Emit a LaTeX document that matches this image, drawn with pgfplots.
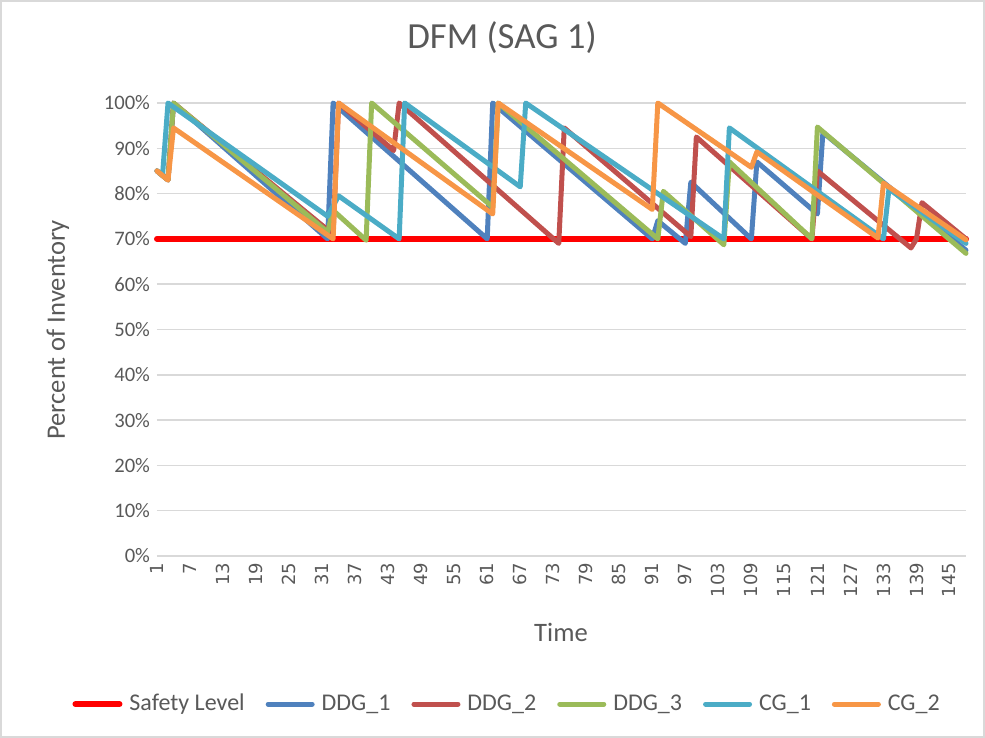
\documentclass[border=0pt]{standalone}
\usepackage{fontspec}
\setmainfont{Carlito}
\newfontfamily\tickfont{DejaVu Sans}
\usepackage{pgfplots}
\pgfplotsset{compat=1.18}
\definecolor{txt}{HTML}{595959}
\definecolor{gridc}{HTML}{D9D9D9}
\definecolor{cA}{HTML}{4F81BD}
\definecolor{cB}{HTML}{C0504D}
\definecolor{cC}{HTML}{9BBB59}
\definecolor{cD}{HTML}{4BACC6}
\definecolor{cE}{HTML}{F79646}
\begin{document}
\begin{tikzpicture}
\useasboundingbox (-78.5pt,-91pt) rectangle (414pt,278pt);
\draw[gridc, line width=0.75pt] (-78.1pt,-90.6pt) rectangle (413.6pt,277.6pt);
\begin{axis}[
  scale only axis, width=404.5pt, height=226.5pt,
  xmin=1, xmax=148, ymin=0, ymax=100,
  clip=false,
  xtick={1,7,...,145}, ytick={0,10,...,100},
  ymajorgrids, major grid style={gridc, line width=0.75pt},
  axis x line*=bottom, axis y line*=left,
  y axis line style={draw=none},
  x axis line style={gridc, line width=0.75pt, -},
  major tick length=0pt, tick style={draw=none},
  /pgf/number format/assume math mode=true,
  yticklabel={\pgfmathprintnumber{\tick}\%},
  yticklabel style={font=\fontsize{10.3}{12}\selectfont, text=txt},
  xticklabel style={rotate=90, anchor=east, font=\tickfont\fontsize{9}{11}\selectfont, text=txt},
  title={DFM (SAG 1)},
  title style={at={(axis description cs:0.4265,1.117)}, anchor=center, font=\fontsize{18.4}{22}\selectfont, text=txt},
  xlabel={Time},
  xlabel style={at={(axis description cs:0.4994,-0.168)}, anchor=center, font=\fontsize{13.3}{16}\selectfont, text=txt},
  ylabel={Percent of Inventory},
  ylabel style={at={(axis description cs:-0.1224,0.499)}, anchor=center, font=\fontsize{13.3}{16}\selectfont, text=txt},
  legend columns=6,
  legend style={at={(axis description cs:0.434,-0.327)}, anchor=center, draw=none, fill=none,
    font=\fontsize{12}{14}\selectfont, text=txt,
    /tikz/every odd column/.append style={column sep=1.5pt},
    /tikz/every even column/.append style={column sep=8.5pt}},
  legend image code/.code={\draw[#1] (0pt,0pt) -- (22pt,0pt);},
  every axis plot/.append style={line join=round, line cap=round, no marks},
]
\addplot[color=red, line width=3pt] coordinates {(1,70) (148,70)};
\addlegendentry{Safety Level}
\addplot[color=cA, line width=2.5pt] coordinates {
(1,85)(2,84)(3,83)(4,100)(32,70)(33,100)(61,70)(62,100)(91,70)(92,74)(97,69)(98,82.5)
(109,70)(110,87)(121,75.5)(122,93.5)(148,67.5)};
\addlegendentry{DDG\_1}
\addplot[color=cB, line width=2.5pt] coordinates {
(1,85)(2,84)(3,83)(4,100)(33,71)(34,100)(44,89.5)(45,100)(74,69)(75,94.5)(98,70.5)(99,92.5)
(120,70)(121,85)(138,68)(139,70)(140,78)(148,70)};
\addlegendentry{DDG\_2}
\addplot[color=cC, line width=2.5pt] coordinates {
(1,85)(2,84)(3,83)(4,100)(32,71.5)(33,76.3)(39,69.7)(40,100)(62,77)(63,100)(92,70)(93,80.5)
(104,68.7)(105,87)(120,70)(121,94.7)(148,66.8)};
\addlegendentry{DDG\_3}
\addplot[color=cD, line width=2.5pt] coordinates {
(1,85)(2,84)(3,100)(32,75)(34,79.5)(45,70)(46,100)(67,81.5)(68,100)(104,70)(105,94.5)
(133,70)(134,81)(148,69)};
\addlegendentry{CG\_1}
\addplot[color=cE, line width=2.5pt] coordinates {
(1,85)(2,84)(3,83)(4,94.5)(33,70)(34,100)(62,75.5)(63,100)(91,76.5)(92,100)(109,85.8)(110,89.2)
(132,70.2)(133,82.3)(148,69.8)};
\addlegendentry{CG\_2}
\end{axis}
\end{tikzpicture}
\end{document}
